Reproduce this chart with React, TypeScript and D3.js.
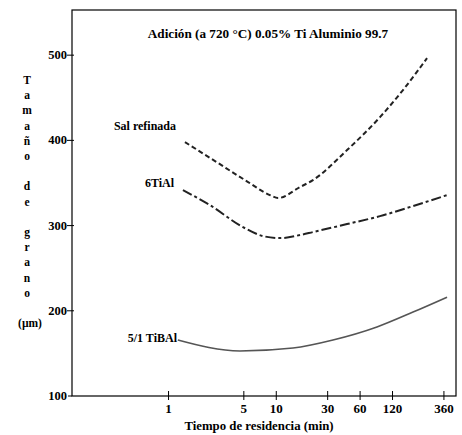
import React from "react";
import * as d3 from "d3";

const title = "Adición (a  720 °C) 0.05% Ti Aluminio 99.7";
const xTitle = "Tiempo de residencia (min)";
const yTitleLetters = ["T", "a", "m", "a", "ñ", "o", "", "d", "e", "", "g", "r", "a", "n", "o"];
const yUnit = "(µm)";

const xTicks = [1, 5, 10, 30, 60, 120, 360];
const yTicks = [100, 200, 300, 400, 500];

const salTime = [1.42, 2.7, 5.12, 8.74, 10.37, 16.6, 21.9, 45.4, 91.8, 150, 251];
const salSize = [398, 375.7, 353.4, 335.8, 332.3, 345.2, 353.4, 388.6, 427.3, 459, 496.5];

const tiAlTime = [1.36, 2.42, 4.91, 7.52, 10.8, 16.6, 21.9, 45.4, 91.8, 186, 385];
const tiAlSize = [341.6, 324, 298.2, 287.7, 285.3, 288.9, 292.4, 301.8, 311.1, 322.9, 335.8];

const tiBAlTime = [1.22, 4.6, 14.3, 33.6, 86, 186, 385];
const tiBAlSize = [165.7, 152.8, 156.3, 165.7, 181, 198.5, 216];

const seriesLabels = ["Sal refinada", "6TiAl", "5/1 TiBAl"];

const W = 462;
const H = 435;
const left = 72;
const right = 456;
const top = 10;
const bottom = 396;
const FONT = "'Liberation Serif', 'DejaVu Serif', 'Noto Serif', 'Times New Roman', serif";

export default function App() {
  const x = d3.scaleLog().domain([0.127, 466]).range([left, right]);
  const y = d3.scaleLinear().domain([100, 553]).range([bottom, top]);

  const line = d3
    .line<[number, number]>()
    .x((d) => x(d[0]))
    .y((d) => y(d[1]))
    .curve(d3.curveMonotoneX);

  const zip = (a: number[], b: number[]) => a.map((v, i) => [v, b[i]] as [number, number]);

  const sal = zip(salTime, salSize);
  const tial = zip(tiAlTime, tiAlSize);
  const tibal = zip(tiBAlTime, tiBAlSize);

  const txt = { fontFamily: FONT, fontWeight: "bold" as const };

  return (
    <svg
      width={W}
      height={H}
      style={{ position: "absolute", left: 0, top: 0, background: "#fff", fontFamily: FONT, fontWeight: "bold" }}
    >
      <rect x={0} y={0} width={W} height={H} fill="#fff" />
      <rect x={left} y={top} width={right - left} height={bottom - top} fill="none" stroke="#000" strokeWidth={1.2} />

      <text x={268} y={38} textAnchor="middle" fontSize={13.2} style={txt}>
        {title}
      </text>

      {yTicks.map((t) => (
        <g key={"y" + t}>
          {t !== 100 && <line x1={left - 5} x2={left + 2} y1={y(t)} y2={y(t)} stroke="#000" />}
          {t === 100 && <line x1={left - 4} x2={left} y1={y(t)} y2={y(t)} stroke="#000" />}
          <text x={left - 5} y={y(t) + 4} textAnchor="end" fontSize={12.5} style={txt}>
            {t}
          </text>
        </g>
      ))}

      {xTicks.map((t) => (
        <g key={"x" + t}>
          <line x1={x(t)} x2={x(t)} y1={bottom - 5} y2={bottom + 4} stroke="#000" />
          <text x={x(t)} y={413} textAnchor="middle" fontSize={13} style={txt}>
            {t}
          </text>
        </g>
      ))}

      <text x={259} y={430} textAnchor="middle" fontSize={12.8} style={txt}>
        {xTitle}
      </text>

      {yTitleLetters.map((c, i) => (
        <text key={"l" + i} x={27} y={84 + i * 15.2} textAnchor="middle" fontSize={11.5} style={txt}>
          {c}
        </text>
      ))}
      <text x={30} y={327} textAnchor="middle" fontSize={11.5} style={txt}>
        {yUnit}
      </text>

      <path d={line(sal) || ""} fill="none" stroke="#222" strokeWidth={2} strokeDasharray="5,3" />
      <path d={line(tial) || ""} fill="none" stroke="#222" strokeWidth={2} strokeDasharray="10,3,3,3" />
      <path d={line(tibal) || ""} fill="none" stroke="#555" strokeWidth={1.6} />

      <text x={176} y={130} textAnchor="end" fontSize={12} style={txt}>
        {seriesLabels[0]}
      </text>
      <text x={174} y={187} textAnchor="end" fontSize={12} style={txt}>
        {seriesLabels[1]}
      </text>
      <text x={177} y={342} textAnchor="end" fontSize={12} style={txt}>
        {seriesLabels[2]}
      </text>
    </svg>
  );
}
